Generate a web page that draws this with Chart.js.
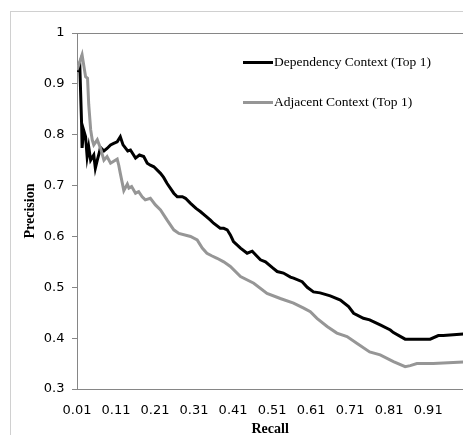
<!DOCTYPE html>
<html>
<head>
<meta charset="utf-8">
<script src="https://cdn.jsdelivr.net/npm/chart.js@4.4.1/dist/chart.umd.min.js"></script>
<style>
  html, body { margin: 0; padding: 0; background: #ffffff; overflow: hidden; }
  #frame { position: absolute; left: 10px; top: 11px; width: 600px; height: 600px;
           border-left: 1px solid #d0d0d0; border-top: 1px solid #d0d0d0; }
  #c { position: absolute; left: 0; top: 0; }
</style>
</head>
<body>
<div id="frame"></div>
<canvas id="c" width="470" height="438"></canvas>
<script>
// ---- data ----
const seriesNames = ['Dependency Context (Top 1)', 'Adjacent Context (Top 1)'];

const depRecall = [0.010,0.017,0.022,0.023,0.027,0.032,0.036,0.040,0.045,0.053,0.057,0.062,0.068,0.070,0.079,0.087,0.096,0.104,0.113,0.121,0.128,0.140,0.147,0.160,0.170,0.181,0.190,0.198,0.207,0.224,0.232,0.241,0.258,0.267,0.280,0.288,0.301,0.315,0.326,0.340,0.352,0.360,0.377,0.386,0.395,0.403,0.411,0.429,0.446,0.459,0.480,0.493,0.510,0.523,0.539,0.557,0.565,0.587,0.600,0.616,0.633,0.659,0.685,0.706,0.719,0.744,0.760,0.787,0.813,0.821,0.851,0.915,0.936,0.949,1.000];
const depPrecision = [0.924,0.940,0.816,0.774,0.809,0.796,0.757,0.776,0.750,0.760,0.734,0.750,0.767,0.775,0.768,0.773,0.780,0.783,0.786,0.796,0.780,0.768,0.770,0.754,0.760,0.757,0.744,0.740,0.737,0.724,0.716,0.704,0.685,0.678,0.678,0.675,0.665,0.655,0.649,0.640,0.632,0.626,0.616,0.616,0.613,0.603,0.590,0.577,0.567,0.571,0.554,0.550,0.539,0.531,0.528,0.520,0.518,0.511,0.500,0.491,0.489,0.483,0.475,0.462,0.449,0.439,0.436,0.426,0.416,0.411,0.398,0.398,0.405,0.405,0.408];

const adjRecall = [0.010,0.023,0.032,0.037,0.040,0.045,0.049,0.053,0.062,0.070,0.079,0.087,0.096,0.104,0.113,0.117,0.121,0.130,0.139,0.143,0.150,0.160,0.168,0.177,0.185,0.198,0.211,0.224,0.241,0.258,0.271,0.301,0.318,0.331,0.343,0.355,0.369,0.386,0.403,0.429,0.463,0.497,0.531,0.565,0.591,0.608,0.625,0.651,0.676,0.702,0.727,0.760,0.787,0.821,0.851,0.864,0.881,0.923,1.000];
const adjPrecision = [0.927,0.957,0.914,0.911,0.860,0.810,0.790,0.780,0.790,0.774,0.750,0.757,0.744,0.748,0.752,0.740,0.724,0.690,0.703,0.695,0.698,0.685,0.688,0.678,0.672,0.675,0.662,0.652,0.632,0.613,0.606,0.600,0.593,0.577,0.567,0.562,0.557,0.550,0.541,0.521,0.508,0.488,0.478,0.469,0.459,0.452,0.439,0.423,0.410,0.403,0.390,0.373,0.367,0.354,0.344,0.346,0.350,0.350,0.353];

const xTickValues = [0.01,0.11,0.21,0.31,0.41,0.51,0.61,0.71,0.81,0.91];
const xTickLabels = ['0.01','0.11','0.21','0.31','0.41','0.51','0.61','0.71','0.81','0.91'];
const yTickLabels = ['0.3','0.4','0.5','0.6','0.7','0.8','0.9','1'];

const toPoints = (xs, ys) => xs.map((x, i) => ({ x: x, y: ys[i] }));

const insideLegend = {
  id: 'insideLegend',
  afterDatasetsDraw(chart) {
    const ctx = chart.ctx;
    const a = chart.chartArea;
    ctx.save();
    chart.data.datasets.forEach((ds, i) => {
      const y = a.top + 29.5 + i * 40;
      ctx.strokeStyle = ds.borderColor;
      ctx.lineWidth = 3;
      ctx.beginPath();
      ctx.moveTo(a.left + 166, y);
      ctx.lineTo(a.left + 196, y);
      ctx.stroke();
      ctx.fillStyle = '#000000';
      ctx.font = '13.5px "Liberation Serif", "Times New Roman", serif';
      ctx.textBaseline = 'middle';
      ctx.textAlign = 'left';
      ctx.fillText(ds.label, a.left + 197, y);
    });
    ctx.restore();
  }
};

new Chart(document.getElementById('c'), {
  type: 'line',
  data: {
    datasets: [
      { label: seriesNames[0], data: toPoints(depRecall, depPrecision), borderColor: '#000000',
        borderWidth: 3, pointRadius: 0, tension: 0, fill: false, order: 1 },
      { label: seriesNames[1], data: toPoints(adjRecall, adjPrecision), borderColor: '#969696',
        borderWidth: 3, pointRadius: 0, tension: 0, fill: false, order: 0 }
    ]
  },
  options: {
    responsive: false,
    animation: false,
    events: [],
    layout: { padding: { left: 0, top: 33, right: 6.7, bottom: 0 } },
    plugins: { legend: { display: false }, tooltip: { enabled: false } },
    scales: {
      x: {
        type: 'linear', min: 0.01, max: 1.0,
        afterBuildTicks(scale) { scale.ticks = xTickValues.map(v => ({ value: v })); },
        afterFit(scale) { scale.height = 49; },
        ticks: {
          autoSkip: false, maxRotation: 0, minRotation: 0, padding: 13.5,
          color: '#000000', font: { family: '"DejaVu Sans", Verdana, sans-serif', size: 13 },
          callback: (v, i) => xTickLabels[i]
        },
        grid: { display: true, drawOnChartArea: false, drawTicks: false, tickLength: 0 },
        border: { display: true, color: '#868686', width: 1 },
        title: { display: true, text: 'Recall', color: '#000000',
                 font: { family: '"Liberation Serif", "Times New Roman", serif', size: 14, weight: 'bold' },
                 padding: { top: 0, bottom: 0 } }
      },
      y: {
        type: 'linear', min: 0.3, max: 1.0,
        afterFit(scale) { scale.width = 77; },
        ticks: {
          stepSize: 0.1, padding: 7.5, color: '#000000',
          font: { family: '"DejaVu Sans", Verdana, sans-serif', size: 13 },
          callback: (v, i) => yTickLabels[i]
        },
        grid: {
          drawOnChartArea: true, drawTicks: true, tickLength: 5,
          color: (c) => (c.tick && Math.abs(c.tick.value - 1) < 1e-9) ? '#868686' : 'rgba(0,0,0,0)',
          tickColor: '#868686'
        },
        border: { display: true, color: '#868686', width: 1 },
        title: { display: true, text: 'Precision', color: '#000000',
                 font: { family: '"Liberation Serif", "Times New Roman", serif', size: 14, weight: 'bold' },
                 padding: { top: 22, bottom: 0 } }
      }
    }
  },
  plugins: [insideLegend]
});
</script>
</body>
</html>
